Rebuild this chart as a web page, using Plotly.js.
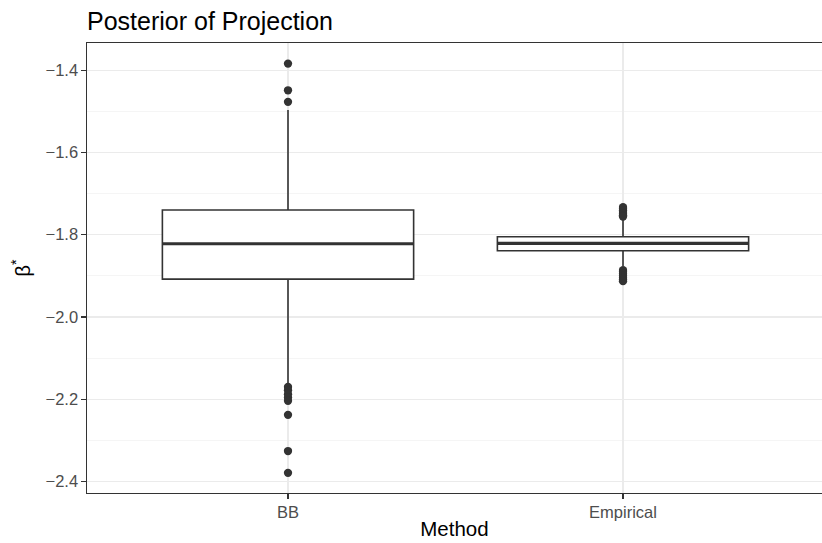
<!DOCTYPE html>
<html>
<head>
<meta charset="utf-8">
<script src="https://cdn.plot.ly/plotly-3.0.1.min.js"></script>
<style>
  html, body { margin: 0; padding: 0; background: #ffffff; }
  #chart { width: 822px; height: 543px; }
</style>
</head>
<body>
<div id="chart"></div>
<script>
// ---- data ----
const categories = ["BB", "Empirical"];
const q1Values = [-1.908, -1.839];
const medianValues = [-1.822, -1.821];
const q3Values = [-1.740, -1.805];
const lowerWhisker = [-2.161, -1.877];
const upperWhisker = [-1.497, -1.763];
const bbOutliers = [-1.384, -1.449, -1.477, -2.170, -2.178, -2.188, -2.196, -2.204, -2.238, -2.326, -2.379];
const empiricalOutliers = [-1.733, -1.737, -1.741, -1.745, -1.749, -1.753, -1.756,
                           -1.886, -1.890, -1.895, -1.900, -1.905, -1.909, -1.913];
const yTickValues = [-2.4, -2.2, -2.0, -1.8, -1.6, -1.4];

// ---- build traces ----
const positions = categories.map((c, i) => i);
const boxWidth = 0.75;
const ink = "#333333";
const font = "Liberation Sans, Arial, Helvetica, sans-serif";

const boxTrace = {
  type: "box",
  x: positions,
  q1: q1Values,
  median: medianValues,
  q3: q3Values,
  lowerfence: lowerWhisker,
  upperfence: upperWhisker,
  width: boxWidth,
  whiskerwidth: 0,
  fillcolor: "#ffffff",
  line: { color: ink, width: 1.6 },
  boxpoints: false,
  hoverinfo: "skip",
  showlegend: false
};

// thicker median bar (ggplot fatten)
const medX = [], medY = [];
positions.forEach((p, i) => {
  medX.push(p - boxWidth / 2, p + boxWidth / 2, null);
  medY.push(medianValues[i], medianValues[i], null);
});
const medianTrace = {
  type: "scatter", mode: "lines", x: medX, y: medY,
  line: { color: ink, width: 3.2 }, hoverinfo: "skip", showlegend: false
};

const outX = [], outY = [];
bbOutliers.forEach(v => { outX.push(0); outY.push(v); });
empiricalOutliers.forEach(v => { outX.push(1); outY.push(v); });
const outlierTrace = {
  type: "scatter", mode: "markers", x: outX, y: outY,
  marker: { color: ink, size: 8.3, line: { width: 0 } },
  hoverinfo: "skip", showlegend: false
};

const layout = {
  width: 822, height: 543,
  margin: { l: 87, r: 0, t: 43, b: 50 },
  paper_bgcolor: "#ffffff",
  plot_bgcolor: "#ffffff",
  font: { family: font, color: "#000000" },
  title: {
    text: "Posterior of Projection",
    font: { family: font, size: 25, color: "#000000" },
    x: 87 / 822, xref: "container", xanchor: "left",
    y: 1 - 21 / 543, yref: "container", yanchor: "middle"
  },
  xaxis: {
    range: [-0.6, 1.594],
    tickvals: positions,
    ticktext: categories,
    showgrid: true, gridcolor: "#ebebeb", gridwidth: 1.1,
    zeroline: false,
    showline: true, linecolor: ink, linewidth: 1.1, mirror: true,
    ticks: "outside", ticklen: 4.5, tickcolor: ink, tickwidth: 1.1,
    tickfont: { family: font, size: 16.5, color: "#4d4d4d" },
    title: { text: "Method", font: { family: font, size: 20.5, color: "#000000" }, standoff: 1 }
  },
  yaxis: {
    range: [-2.428, -1.334],
    tickvals: yTickValues,
    tickformat: ".1f",
    showgrid: true, gridcolor: "#ebebeb", gridwidth: 1.1,
    minor: { dtick: 0.1, tick0: -2.4, showgrid: true, gridcolor: "#f3f3f3", gridwidth: 0.8, ticks: "" },
    zeroline: false,
    showline: true, linecolor: ink, linewidth: 1.1, mirror: false,
    ticks: "outside", ticklen: 4.5, tickcolor: ink, tickwidth: 1.1,
    tickfont: { family: font, size: 16.5, color: "#4d4d4d" },
    title: { text: "β<sup>*</sup>", font: { family: font, size: 20.5, color: "#000000" }, standoff: 9 }
  }
};

Plotly.newPlot("chart", [boxTrace, medianTrace, outlierTrace], layout, { staticPlot: true, displayModeBar: false });
</script>
</body>
</html>
